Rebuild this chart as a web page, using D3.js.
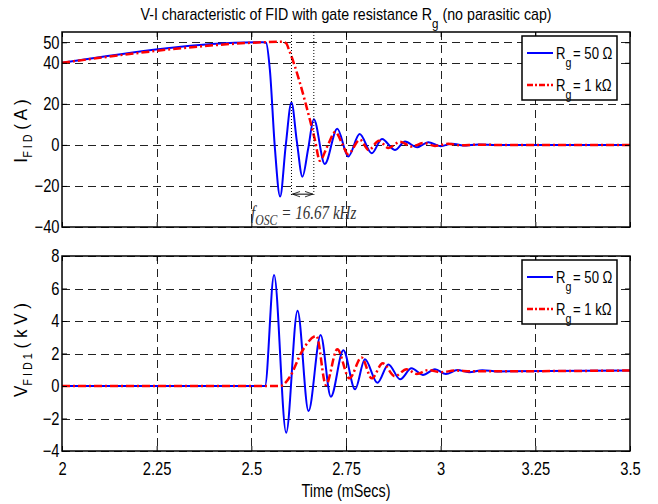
<!DOCTYPE html>
<html>
<head>
<meta charset="utf-8">
<script src="https://cdn.jsdelivr.net/npm/d3@7"></script>
<style>
  body { margin: 0; background: #fff; }
  text { font-family: "Liberation Sans", Arial, sans-serif; fill: #000; }
</style>
</head>
<body>
<svg id="chart" width="658" height="504"></svg>
<script>
// ticks
var timeTicks = [2, 2.25, 2.5, 2.75, 3, 3.25, 3.5];
var currentTicks = [-40, -20, 0, 20, 40, 50];
var voltageTicks = [-4, -2, 0, 2, 4, 6, 8];
var legendValues = ["50 \u03A9", "1 k\u03A9"];

// I_FID (A) vs time (ms), Rg = 50 ohm
var iFid50 = [
  [2, 40], [2.531, 50], [2.539, 49.8], [2.549, 36.5], [2.562, -1], [2.576, -25.2],
  [2.591, 0], [2.606, 20.6], [2.62, 2], [2.635, -15.5], [2.65, -2], [2.665, 12.5],
  [2.694, -9.3], [2.727, 7.9], [2.756, -5.7], [2.786, 5.3], [2.818, -4.1], [2.845, 2.9],
  [2.879, -2.5], [2.906, 1.6], [2.938, -1.2], [2.967, 1.3], [3.0, -0.6], [3.03, 0.6],
  [3.06, -0.3], [3.1, 0.2], [3.15, 0], [3.5, 0]
];
// I_FID (A), Rg = 1 kohm
var iFid1k = [
  [2, 40], [2.531, 50], [2.58, 50.3], [2.592, 49.5], [2.6, 46], [2.655, 12],
  [2.668, 2.4], [2.681, -7.7], [2.70, -1], [2.722, 6.3], [2.74, 0.5], [2.755, -4.5],
  [2.787, 2.5], [2.81, -2.5], [2.837, 2], [2.862, -1.5], [2.893, 1.5], [2.923, -0.8],
  [2.955, 0.9], [2.985, -0.5], [3.02, 0.5], [3.05, -0.2], [3.1, 0.1], [3.15, 0], [3.5, 0]
];
// V_FID1 (kV), Rg = 50 ohm
var vFid50 = [
  [2, 0], [2.536, 0], [2.560, 6.83], [2.592, -2.87], [2.622, 4.63], [2.651, -1.54],
  [2.683, 3.14], [2.710, -0.66], [2.743, 2.2], [2.774, -0.2], [2.8, 1.64], [2.833, 0.2],
  [2.862, 1.33], [2.893, 0.41], [2.923, 1.09], [2.953, 0.68], [2.985, 1.03], [3.014, 0.74],
  [3.044, 0.98], [3.075, 0.85], [3.11, 0.97], [3.15, 0.9], [3.5, 0.95]
];
// V_FID1 (kV), Rg = 1 kohm
var vFid1k = [
  [2, 0], [2.576, 0], [2.602, 0.57], [2.633, 2.1], [2.672, 3.08], [2.697, 0.06],
  [2.727, 2.26], [2.759, 0.47], [2.791, 1.76], [2.818, 0.47], [2.847, 1.4], [2.879, 0.6],
  [2.910, 1.03], [2.937, 0.74], [2.967, 0.98], [3.0, 0.85], [3.04, 0.95], [3.08, 0.9], [3.5, 0.95]
];
// oscillation period marker (ms) and the level of the arrow (A)
var oscMarks = [2.606, 2.665];
var oscArrowLevel = -24;

var svg = d3.select("#chart");
var left = 62, right = 630;
var x = d3.scaleLinear().domain([2, 3.5]).range([left, right]);
var yI = d3.scaleLinear().domain([-40, 55]).range([227, 32]);
var yV = d3.scaleLinear().domain([-4, 8]).range([451, 256]);

var defs = svg.append("defs");
defs.append("marker").attr("id", "arr").attr("viewBox", "0 0 10 10")
  .attr("refX", 10).attr("refY", 5).attr("markerWidth", 8).attr("markerHeight", 8)
  .attr("orient", "auto-start-reverse")
  .append("path").attr("d", "M0,1.5 L10,5 L0,8.5").attr("fill", "none").attr("stroke", "#000").attr("stroke-width", 1);

// the reference uses a condensed font, so squeeze text horizontally
function squeezed(parent, px, py, sx) {
  return parent.append("g").attr("transform", "translate(" + px + "," + py + ") scale(" + sx + ",1)");
}

function drawPanel(id, y, yTicks, showX, blue, red) {
  var g = svg.append("g");
  var top = y.range()[1], bottom = y.range()[0];

  defs.append("clipPath").attr("id", "clip" + id)
    .append("rect").attr("x", left).attr("y", top).attr("width", right - left).attr("height", bottom - top);

  // grid
  var grid = g.append("g").attr("stroke", "#222").attr("stroke-width", 1)
    .attr("stroke-dasharray", "8,5").attr("shape-rendering", "crispEdges");
  grid.selectAll(".v").data(timeTicks.slice(1, -1)).enter().append("line")
    .attr("x1", d => Math.round(x(d)) + 0.5).attr("x2", d => Math.round(x(d)) + 0.5)
    .attr("y1", top).attr("y2", bottom);
  grid.selectAll(".h").data(yTicks).enter().append("line")
    .attr("x1", left).attr("x2", right)
    .attr("y1", d => Math.round(y(d)) + 0.5).attr("y2", d => Math.round(y(d)) + 0.5);

  var line = d3.line().x(d => x(d[0])).y(d => y(d[1])).curve(d3.curveMonotoneX);
  var lines = g.append("g").attr("clip-path", "url(#clip" + id + ")").attr("fill", "none");
  lines.append("path").datum(blue).attr("d", line)
    .attr("stroke", "#0000ff").attr("stroke-width", 2);
  lines.append("path").datum(red).attr("d", line)
    .attr("stroke", "#ff0000").attr("stroke-width", 2.5).attr("stroke-dasharray", "8,3,2,3");

  // axes with inward ticks
  var ax = g.append("g");
  ax.append("g").attr("transform", "translate(" + left + ",0)")
    .call(d3.axisLeft(y).tickValues(yTicks).tickSize(-5).tickPadding(3).tickFormat(d3.format("d")));
  ax.append("g").attr("transform", "translate(" + right + ",0)")
    .call(d3.axisRight(y).tickValues(yTicks).tickSize(-5).tickFormat(""));
  ax.append("g").attr("transform", "translate(0," + bottom + ")")
    .call(d3.axisBottom(x).tickValues(timeTicks).tickSize(-5).tickPadding(11)
      .tickFormat(showX ? (d => d3.format("")(d)) : ""));
  ax.append("g").attr("transform", "translate(0," + top + ")")
    .call(d3.axisTop(x).tickValues(timeTicks).tickSize(-5).tickFormat(""));
  ax.selectAll(".domain").remove();
  ax.selectAll("text").attr("fill", "#000").style("font-family", "'Liberation Sans', Arial, sans-serif")
    .style("font-size", "18px").attr("transform", "scale(0.82,1)");
  ax.selectAll("line").attr("stroke", "#000");
  g.append("rect").attr("x", left).attr("y", top).attr("width", right - left).attr("height", bottom - top)
    .attr("fill", "none").attr("stroke", "#000").attr("stroke-width", 1.5);

  // legend
  var lg = g.append("g").attr("transform", "translate(522," + (top + 4) + ")");
  lg.append("rect").attr("width", 95).attr("height", 64).attr("fill", "#fff").attr("stroke", "#000").attr("stroke-width", 1.5);
  var item = lg.selectAll(".item").data(legendValues).enter().append("g")
    .attr("transform", (d, i) => "translate(0," + (17 + i * 32) + ")");
  item.append("line").attr("x1", 5).attr("x2", 31).attr("y1", 0).attr("y2", 0)
    .attr("stroke", (d, i) => i ? "#ff0000" : "#0000ff")
    .attr("stroke-width", (d, i) => i ? 2.5 : 2)
    .attr("stroke-dasharray", (d, i) => i ? "6,2,2,2" : null);
  var lt = item.append("g").attr("transform", "translate(34,6) scale(0.82,1)")
    .append("text").style("font-size", "16px");
  lt.append("tspan").text("R");
  lt.append("tspan").attr("dy", 8).style("font-size", "13px").text("g");
  lt.append("tspan").attr("dy", -8).attr("dx", 2).text(d => "= " + d);
  return g;
}

drawPanel("I", yI, currentTicks, false, iFid50, iFid1k);
drawPanel("V", yV, voltageTicks, true, vFid50, vFid1k);

// oscillation period annotation
var ann = svg.append("g");
ann.selectAll("line.mark").data(oscMarks).enter().append("line")
  .attr("x1", d => x(d)).attr("x2", d => x(d))
  .attr("y1", yI.range()[1]).attr("y2", yI(oscArrowLevel) + 2)
  .attr("stroke", "#000").attr("stroke-width", 1).attr("stroke-dasharray", "1,2");
ann.append("line")
  .attr("x1", x(oscMarks[0]) + 1).attr("x2", x(oscMarks[1]) - 1)
  .attr("y1", yI(oscArrowLevel)).attr("y2", yI(oscArrowLevel))
  .attr("stroke", "#000").attr("stroke-width", 1)
  .attr("marker-start", "url(#arr)").attr("marker-end", "url(#arr)");
var ft = squeezed(ann, 251, 219, 0.84).append("text")
  .style("font-family", "'Liberation Serif', 'Times New Roman', serif")
  .style("font-style", "italic").style("font-size", "18px").style("fill", "#333");
ft.append("tspan").text("f");
ft.append("tspan").attr("dy", 6).style("font-size", "14px").text("OSC");
ft.append("tspan").attr("dy", -6).text(" = 16.67 kHz");

// title
var title = squeezed(svg, 346, 20, 0.89).append("text").attr("text-anchor", "middle").style("font-size", "16px");
title.append("tspan").text("V-I characteristic of FID with gate resistance R");
title.append("tspan").attr("dy", 8).style("font-size", "13px").text("g");
title.append("tspan").attr("dy", -8).text(" (no parasitic cap)");

// x label
squeezed(svg, 346, 497, 0.8).append("text").attr("text-anchor", "middle")
  .style("font-size", "18px").text("Time (mSecs)");

// y labels
var yl1 = svg.append("g").attr("transform", "translate(27,131) rotate(-90) scale(0.9,1)")
  .append("text").attr("text-anchor", "middle").style("font-size", "19px");
yl1.append("tspan").text("I");
yl1.append("tspan").attr("dy", 5).style("font-size", "12px").text("F I D");
yl1.append("tspan").attr("dy", -5).text("  ( A )");

var yl2 = svg.append("g").attr("transform", "translate(27,350) rotate(-90) scale(0.9,1)")
  .append("text").attr("text-anchor", "middle").style("font-size", "19px");
yl2.append("tspan").text("V");
yl2.append("tspan").attr("dy", 5).style("font-size", "12px").text("F I D 1");
yl2.append("tspan").attr("dy", -5).text(" ( k V )");
</script>
</body>
</html>
